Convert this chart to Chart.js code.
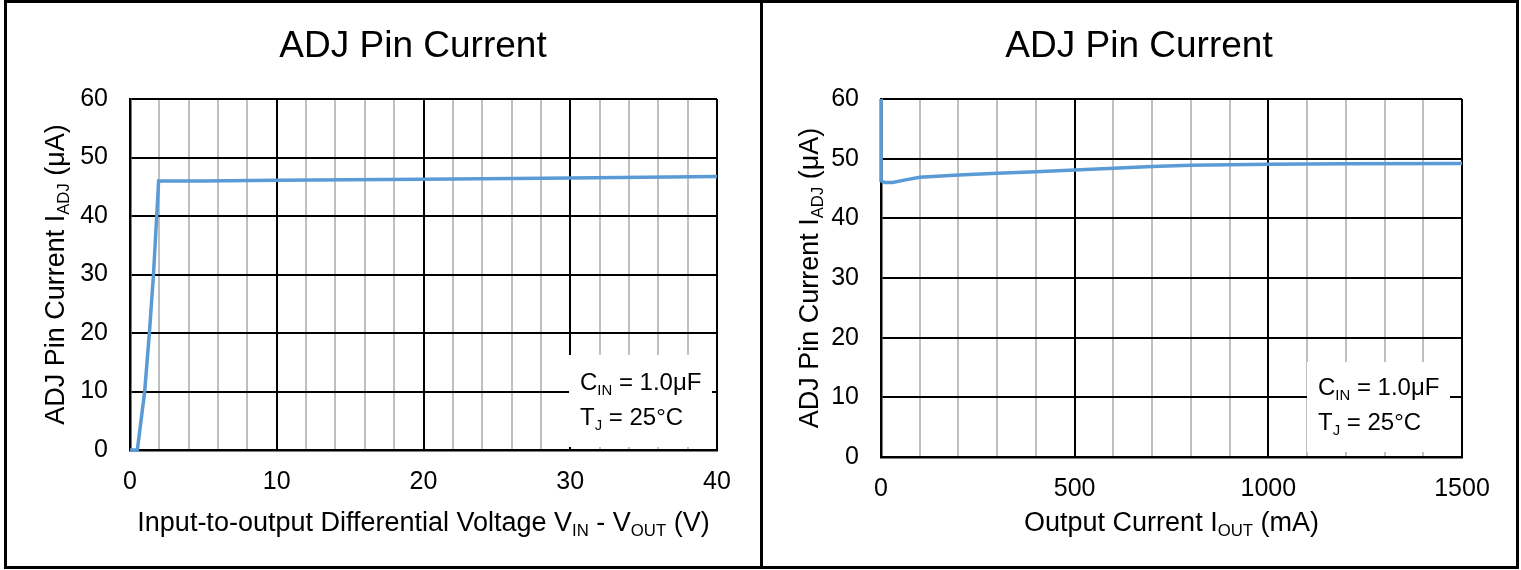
<!DOCTYPE html>
<html>
<head>
<meta charset="utf-8">
<script src="https://cdn.jsdelivr.net/npm/chart.js@4"></script>
<style>
  body { margin: 0; background: #fff; }
  #wrap { position: relative; width: 1521px; height: 570px; overflow: hidden; }
  #frame { position: absolute; left: 4px; top: 0; width: 1515px; height: 569px; border: 3px solid #000; box-sizing: border-box; }
  #divider { position: absolute; left: 760px; top: 0; width: 3px; height: 569px; background: #000; }
  canvas { position: absolute; top: 0; }
  #left { left: 0; }
  #right { left: 763px; }
</style>
</head>
<body>
<div id="wrap">
  <canvas id="left" width="760" height="570"></canvas>
  <canvas id="right" width="758" height="570"></canvas>
  <div id="frame"></div>
  <div id="divider"></div>
</div>
<script>
// data
const leftX = [0, 0.5, 1.0, 1.32, 1.6, 1.82, 1.95, 5, 10, 20, 30, 40];
const leftY = [0, 0, 10, 20, 30, 40, 46.0, 46.0, 46.1, 46.3, 46.5, 46.75];
const rightX = [0, 0, 10, 30, 60, 100, 200, 300, 400, 500, 600, 700, 800, 900, 1000, 1200, 1500];
const rightY = [60, 46.3, 46.0, 46.0, 46.4, 46.9, 47.25, 47.55, 47.8, 48.1, 48.4, 48.7, 48.9, 49.0, 49.05, 49.15, 49.2];
const yTicks = [0, 10, 20, 30, 40, 50, 60];
const leftXTicks = [0, 10, 20, 30, 40];
const rightXTicks = [0, 500, 1000, 1500];

const FONT = "'Liberation Sans', Arial, sans-serif";
const BLUE = "#5b9bd5";

// draw text made of [text, isSubscript] parts, starting at x on baseline y
function richText(ctx, parts, x, y, size, align) {
  const subSize = size * 0.62;
  let total = 0;
  parts.forEach(([t, sub]) => {
    ctx.font = (sub ? subSize : size) + "px " + FONT;
    total += ctx.measureText(t).width;
  });
  let cx = align === "center" ? x - total / 2 : x;
  ctx.textBaseline = "alphabetic";
  ctx.textAlign = "left";
  parts.forEach(([t, sub]) => {
    ctx.font = (sub ? subSize : size) + "px " + FONT;
    ctx.fillText(t, cx, sub ? y + size * 0.2 : y);
    cx += ctx.measureText(t).width;
  });
}

function makePlugin(cfg) {
  return {
    id: "decor",
    beforeDatasetsDraw(chart) {
      const ctx = chart.ctx;
      const b = cfg.box;
      ctx.save();
      ctx.fillStyle = "#fff";
      ctx.fillRect(b.x, b.y, b.w, b.h);
      ctx.fillStyle = "#000";
      richText(ctx, [["C"], ["IN", true], [" = 1.0μF"]], b.tx, b.b1, 24, "left");
      richText(ctx, [["T"], ["J", true], [" = 25°C"]], b.tx, b.b2, 24, "left");
      ctx.restore();
    },
    afterDraw(chart) {
      const ctx = chart.ctx;
      const a = chart.chartArea;
      ctx.save();
      ctx.fillStyle = "#000";
      ctx.font = "37px " + FONT;
      ctx.textAlign = "center";
      ctx.textBaseline = "alphabetic";
      ctx.fillText("ADJ Pin Current", cfg.titleX, 57);
      richText(ctx, cfg.xTitle, (a.left + a.right) / 2, 531, 27, "center");
      ctx.translate(cfg.yTitleX, (a.top + a.bottom) / 2);
      ctx.rotate(-Math.PI / 2);
      richText(ctx, [["ADJ Pin Current I"], ["ADJ", true], [" (μA)"]], 0, 0, 27, "center");
      ctx.restore();
    }
  };
}

function makeChart(id, xs, ys, opt) {
  const pts = xs.map((x, i) => ({ x: x, y: ys[i] }));
  return new Chart(document.getElementById(id), {
    type: "scatter",
    data: {
      datasets: [{
        data: pts,
        showLine: true,
        borderColor: BLUE,
        borderWidth: 3.5,
        pointRadius: 0,
        tension: 0,
        clip: false
      }]
    },
    options: {
      responsive: false,
      animation: false,
      devicePixelRatio: 1,
      layout: { padding: { left: 0, top: 99, right: opt.padRight, bottom: 0 } },
      plugins: { legend: { display: false }, tooltip: { enabled: false }, title: { display: false } },
      scales: {
        x: {
          type: "linear",
          min: 0,
          max: opt.xMax,
          afterFit: (s) => { s.height = opt.xHeight; },
          ticks: {
            stepSize: opt.minor,
            autoSkip: false,
            maxRotation: 0,
            padding: 17,
            color: "#000",
            font: { family: FONT, size: 25 },
            callback: (v) => (opt.xTicks.includes(v) ? String(v) : "")
          },
          grid: {
            drawTicks: false,
            lineWidth: 2,
            color: (c) => (c.tick && c.tick.value % opt.major === 0 ? "#000" : "#bfbfbf")
          },
          border: { display: true, color: "#000", width: 2.5 }
        },
        y: {
          min: 0,
          max: 60,
          afterFit: (s) => { s.width = opt.yWidth; },
          ticks: {
            stepSize: 10,
            padding: 22,
            color: "#000",
            font: { family: FONT, size: 25 },
            callback: (v) => (yTicks.includes(v) ? String(v) : "")
          },
          grid: { drawTicks: false, lineWidth: 2, color: "#000" },
          border: { display: true, color: "#000", width: 2.5 }
        }
      }
    },
    plugins: [makePlugin(opt)]
  });
}

makeChart("left", leftX, leftY, {
  xMax: 40, minor: 2, major: 10, xTicks: leftXTicks,
  padRight: 43, yWidth: 130, xHeight: 120,
  titleX: 413, yTitleX: 64,
  xTitle: [["Input-to-output Differential Voltage V"], ["IN", true], [" - V"], ["OUT", true], [" (V)"]],
  box: { x: 569, y: 355, w: 143, h: 92, tx: 580, b1: 390, b2: 425 }
});

makeChart("right", rightX, rightY, {
  xMax: 1500, minor: 100, major: 500, xTicks: rightXTicks,
  padRight: 59, yWidth: 118, xHeight: 113,
  titleX: 376, yTitleX: 55,
  xTitle: [["Output Current I"], ["OUT", true], [" (mA)"]],
  box: { x: 544, y: 362, w: 143, h: 90, tx: 555, b1: 395, b2: 430 }
});
</script>
</body>
</html>
